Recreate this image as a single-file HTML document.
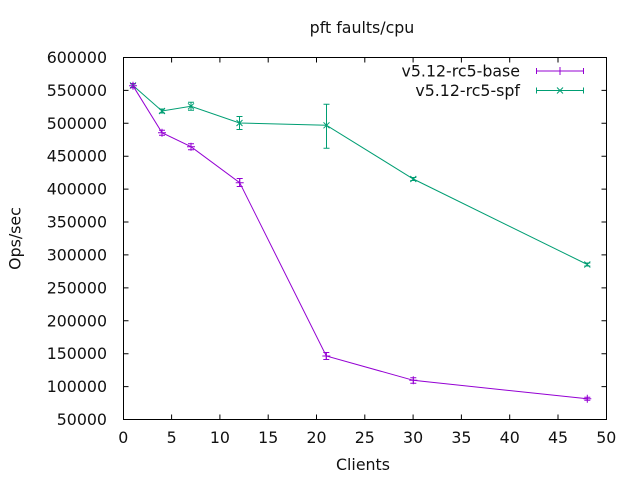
<!DOCTYPE html>
<html><head><meta charset="utf-8"><style>
html,body{margin:0;padding:0;background:#fff;}
svg{display:block;}
text{font-family:"DejaVu Sans","Liberation Sans",sans-serif;font-size:15.8px;fill:#111;}
</style></head><body>
<svg width="640" height="480" viewBox="0 0 640 480" xmlns="http://www.w3.org/2000/svg">
<rect width="640" height="480" fill="#fff"/>
<text x="362" y="33" text-anchor="middle">pft faults/cpu</text>
<!-- y tick labels -->
<g text-anchor="end" dominant-baseline="central">
<text x="107" y="57.5">600000</text>
<text x="107" y="90.4">550000</text>
<text x="107" y="123.3">500000</text>
<text x="107" y="156.2">450000</text>
<text x="107" y="189.1">400000</text>
<text x="107" y="222">350000</text>
<text x="107" y="254.9">300000</text>
<text x="107" y="287.9">250000</text>
<text x="107" y="320.8">200000</text>
<text x="107" y="353.7">150000</text>
<text x="107" y="386.6">100000</text>
<text x="107" y="419.5">50000</text>
</g>
<g text-anchor="middle">
<text x="123.3" y="443">0</text>
<text x="171.6" y="443">5</text>
<text x="219.9" y="443">10</text>
<text x="268.2" y="443">15</text>
<text x="316.5" y="443">20</text>
<text x="364.8" y="443">25</text>
<text x="413.1" y="443">30</text>
<text x="461.4" y="443">35</text>
<text x="509.7" y="443">40</text>
<text x="558" y="443">45</text>
<text x="606.3" y="443">50</text>
<text x="363" y="470">Clients</text>
</g>
<text transform="translate(15,238.5) rotate(-90)" text-anchor="middle" dominant-baseline="central">Ops/sec</text>
<!-- ticks -->
<g stroke="#000" stroke-width="1">
<path d="M123.5,90.4h5M123.5,123.3h5M123.5,156.2h5M123.5,189.1h5M123.5,222h5M123.5,254.9h5M123.5,287.9h5M123.5,320.8h5M123.5,353.7h5M123.5,386.6h5
M606.5,90.4h-5M606.5,123.3h-5M606.5,156.2h-5M606.5,189.1h-5M606.5,222h-5M606.5,254.9h-5M606.5,287.9h-5M606.5,320.8h-5M606.5,353.7h-5M606.5,386.6h-5
M171.6,419.5v-5M219.9,419.5v-5M268.2,419.5v-5M316.5,419.5v-5M364.8,419.5v-5M413.1,419.5v-5M461.4,419.5v-5M509.7,419.5v-5M558,419.5v-5
M171.6,57.5v5M219.9,57.5v5M268.2,57.5v5M316.5,57.5v5M364.8,57.5v5M413.1,57.5v5M461.4,57.5v5M509.7,57.5v5M558,57.5v5" fill="none"/>
<rect x="123.5" y="57.5" width="483" height="362" fill="none"/>
</g>
<!-- legend -->
<text x="520" y="71" text-anchor="end" dominant-baseline="central">v5.12-rc5-base</text>
<text x="520" y="90.5" text-anchor="end" dominant-baseline="central">v5.12-rc5-spf</text>
<g stroke="#9400d3" stroke-width="1" fill="none">
<path d="M536,71H584M536.5,68v6M583.5,68v6M560,67v8"/>
</g>
<g stroke="#009e73" stroke-width="1" fill="none">
<path d="M536,90.5H584M536.5,87.5v6M583.5,87.5v6M557,87.5l6,6M557,93.5l6,-6"/>
</g>
<!-- spf series -->
<g stroke="#009e73" stroke-width="1" fill="none">
<polyline points="133,85.5 162,111 191,106.3 239.5,123 326.5,125.3 413.3,179 587.3,264.5"/>
<path d="M133,83.5v4M130,83.5h6M130,87.5h6
M162,109v4M159,109h6M159,113h6
M191,102.3v8M188,102.3h6M188,110.3h6
M239.5,116.5v13M236.5,116.5h6M236.5,129.5h6
M326.5,104.3v44M323.5,104.3h6M323.5,148.3h6
M413.3,177.5v3M410.3,177.5h6M410.3,180.5h6
M587.3,263v3M584.3,263h6M584.3,266h6"/>
<path d="M130,82.5l6,6M130,88.5l6,-6
M159,108l6,6M159,114l6,-6
M188,103.3l6,6M188,109.3l6,-6
M236.5,120l6,6M236.5,126l6,-6
M323.5,122.3l6,6M323.5,128.3l6,-6
M410.3,176l6,6M410.3,182l6,-6
M584.3,261.5l6,6M584.3,267.5l6,-6"/>
</g>
<!-- base series -->
<g stroke="#9400d3" stroke-width="1" fill="none">
<polyline points="133,85.8 162,132.7 191,146.7 239.7,182.7 326.3,356 413.3,380.3 587.3,398.8"/>
<path d="M133,83.8v4M130,83.8h6M130,87.8h6
M162,130.2v5M159,130.2h6M159,135.2h6
M191,143.7v6M188,143.7h6M188,149.7h6
M239.7,178.5v8M236.7,178.5h6M236.7,186.5h6
M326.3,352.5v7M323.3,352.5h6M323.3,359.5h6
M413.3,377.7v5.6M410.3,377.7h6M410.3,383.3h6
M587.3,397.3v3M584.3,397.3h6M584.3,400.3h6"/>
<path d="M129,85.8h8M133,81.8v8
M158,132.7h8M162,128.7v8
M187,146.7h8M191,142.7v8
M235.7,182.7h8M239.7,178.7v8
M322.3,356h8M326.3,352v8
M409.3,380.3h8M413.3,376.3v8
M583.3,398.8h8M587.3,394.8v8"/>
</g>
</svg>
</body></html>
